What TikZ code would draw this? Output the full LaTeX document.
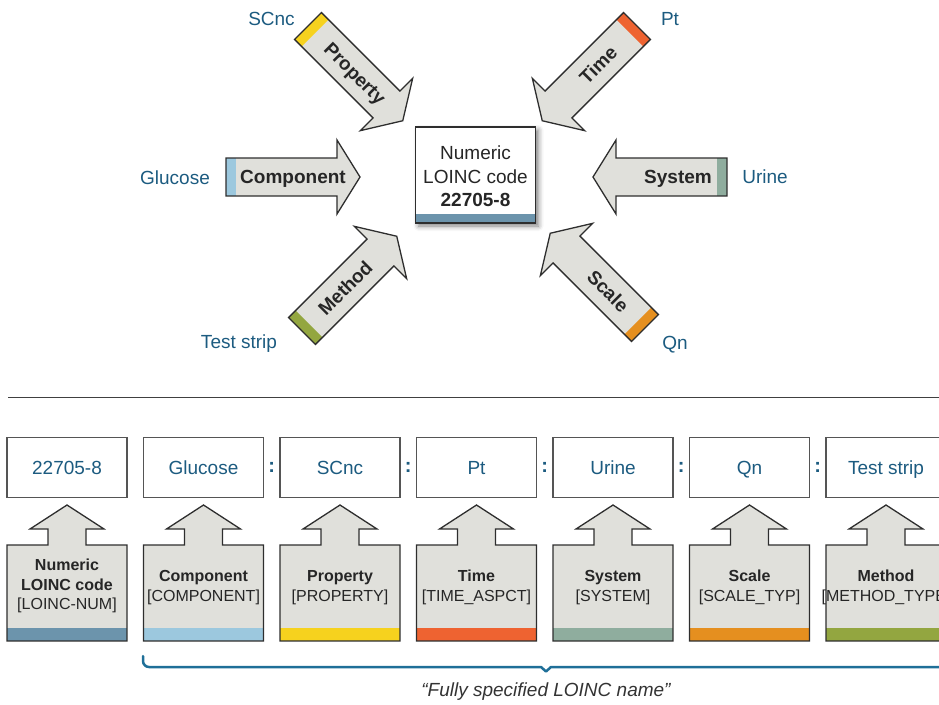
\documentclass[tikz,border=0pt]{standalone}
\usepackage{fontspec}
\setmainfont{Liberation Sans}
\usetikzlibrary{shadows.blur}

\definecolor{valblue}{HTML}{1C5B80}
\definecolor{edge}{HTML}{2E2E2E}
\definecolor{boxedge}{HTML}{555555}
\definecolor{plategray}{HTML}{E0E0DB}
\definecolor{bracecol}{HTML}{1F6F98}
\definecolor{cNum}{HTML}{6C94AC}
\definecolor{cComp}{HTML}{9CC8DE}
\definecolor{cProp}{HTML}{F6D21E}
\definecolor{cTime}{HTML}{EE6331}
\definecolor{cSys}{HTML}{8FAD9E}
\definecolor{cScale}{HTML}{E58F1F}
\definecolor{cMeth}{HTML}{93A640}

\tikzset{
  outline/.style={draw=edge,line width=1.3pt,line join=miter},
  armlabel/.style={font=\fontsize{19}{23}\selectfont\bfseries,text=black!85,
    inner sep=0pt,text height=13.8pt,text depth=0pt},
  outlabel/.style={font=\fontsize{19}{23}\selectfont,text=valblue,
    inner sep=0pt,text height=13.8pt,text depth=0pt},
  valbox/.style={draw=boxedge,line width=1.3pt,fill=white,
    minimum width=120pt,minimum height=60.5pt,inner sep=0pt,
    font=\fontsize{19}{23}\selectfont,text=valblue,text height=13.8pt,text depth=0pt},
  sepmark/.style={font=\fontsize{20}{23}\selectfont\bfseries,text=valblue,inner sep=0pt},
  fieldtext/.style={font=\fontsize{16}{19.8}\selectfont,text=black!85,align=center,inner sep=0pt},
  bracepath/.style={draw=bracecol,line width=2.5pt,line cap=round,line join=round},
  % block arrow feeding the code box: stripe colour, label, label offset, label turn
  pics/feed/.style n args={4}{code={
    \fill[plategray] (0,-19) -- (111,-19) -- (111,-37) -- (134,0) -- (111,37)
      -- (111,19) -- (0,19) -- cycle;
    \fill[#1] (0,-19) rectangle (10,19);
    \draw[outline] (0,-19) -- (111,-19) -- (111,-37) -- (134,0) -- (111,37)
      -- (111,19) -- (0,19) -- cycle;
    \node[armlabel,transform shape,rotate=#4] (-lbl) at (#3,0) {#2};
  }},
  % plate with an upward arrow, under a value box: stripe colour
  pics/plate/.style={code={
    \fill[plategray] (-60,40) -- (-19,40) -- (-19,24) -- (-37,24) -- (0,0)
      -- (37,24) -- (19,24) -- (19,40) -- (60,40) -- (60,136) -- (-60,136) -- cycle;
    \fill[#1] (-60,123) rectangle (60,136);
    \draw[outline] (-60,40) -- (-19,40) -- (-19,24) -- (-37,24) -- (0,0)
      -- (37,24) -- (19,24) -- (19,40) -- (60,40) -- (60,136) -- (-60,136) -- cycle;
  }}
}

\begin{document}
\begin{tikzpicture}[x=1pt,y=-1pt]
\useasboundingbox (0,0) rectangle (939,704);
\clip (0,0) rectangle (939,704);

% ---- central code box ----
\node[draw=edge,line width=1.5pt,fill=white,outer sep=0pt,
  minimum width=120pt,minimum height=96pt,
  blur shadow={shadow xshift=3pt,shadow yshift=-3pt,shadow blur radius=5pt,shadow opacity=50}]
  (code) at (475.5,175) {};
\fill[cNum] (code.south west) rectangle ([yshift=9pt]code.south east);
\draw[draw=edge,line width=1.5pt] (code.south west) rectangle (code.north east);
\node[align=center,font=\fontsize{19}{23.5}\selectfont,text=black!85,inner sep=0pt]
  (codetxt) at (475.5,176.5) {Numeric\\LOINC code\\\textbf{22705-8}};

% ---- the six axes ----
\pic[rotate=0]    (comp)  at (226,177) {feed={cComp}{Component}{67}{0}};
\pic[rotate=180]  (sys)   at (727,177) {feed={cSys}{System}{49}{180}};
\pic[rotate=-45]  (prop)  at (308,26)  {feed={cProp}{Property}{67}{0}};
\pic[rotate=-135] (time)  at (637,26)  {feed={cTime}{Time}{55}{180}};
\pic[rotate=45]   (meth)  at (302,331) {feed={cMeth}{Method}{61}{0}};
\pic[rotate=135]  (scale) at (645,328) {feed={cScale}{Scale}{52}{180}};

\node[outlabel] (lscnc)  at (271.5,18.5) {SCnc};
\node[outlabel] (lpt)    at (670,18.5)   {Pt};
\node[outlabel] (lgluc)  at (175,177.5)  {Glucose};
\node[outlabel] (lurine) at (765,177)    {Urine};
\node[outlabel] (lstrip) at (239,342)    {Test strip};
\node[outlabel] (lqn)    at (675,342.5)  {Qn};

% ---- divider ----
\draw[line width=1pt,draw=black!75] (8,397) -- (939,397);

% ---- name parts: value boxes and their plates ----
\foreach \k/\val/\col in {0/22705-8/cNum,1/Glucose/cComp,2/SCnc/cProp,
    3/Pt/cTime,4/Urine/cSys,5/Qn/cScale,6/Test strip/cMeth}{
  \node[valbox] (val\k) at ({67+136.5*\k},467.5) {\val};
  \pic (plate\k) at ({67+136.5*\k},505) {plate=\col};
}
\node[fieldtext] (fld0) at (67,586) {\textbf{Numeric}\\\textbf{LOINC code}\\{[}LOINC-NUM{]}};
\foreach \k/\ttl/\fld in {1/Component/COMPONENT,2/Property/PROPERTY,
    3/Time/TIME\_ASPCT,4/System/SYSTEM,5/Scale/SCALE\_TYP,6/Method/METHOD\_TYPE}{
  \node[fieldtext] (fld\k) at ({67+136.5*\k},587.5) {\textbf{\ttl}\\{[}\fld{]}};
}
\foreach \k in {2,...,6}{
  \node[sepmark] (sep\k) at ({136.5*\k-1.25},467) {:};
}

% ---- brace under the fully specified name ----
\draw[bracepath] (143,656) [rounded corners=6pt] -- (143,667) [sharp corners]
  -- (541,667) -- (546,671.5) -- (551,667) -- (960,667);
\node[font=\fontsize{19}{23}\selectfont\itshape,text=black!80,inner sep=0pt]
  (fsn) at (546,692) {``Fully specified LOINC name''};
\end{tikzpicture}
\end{document}
